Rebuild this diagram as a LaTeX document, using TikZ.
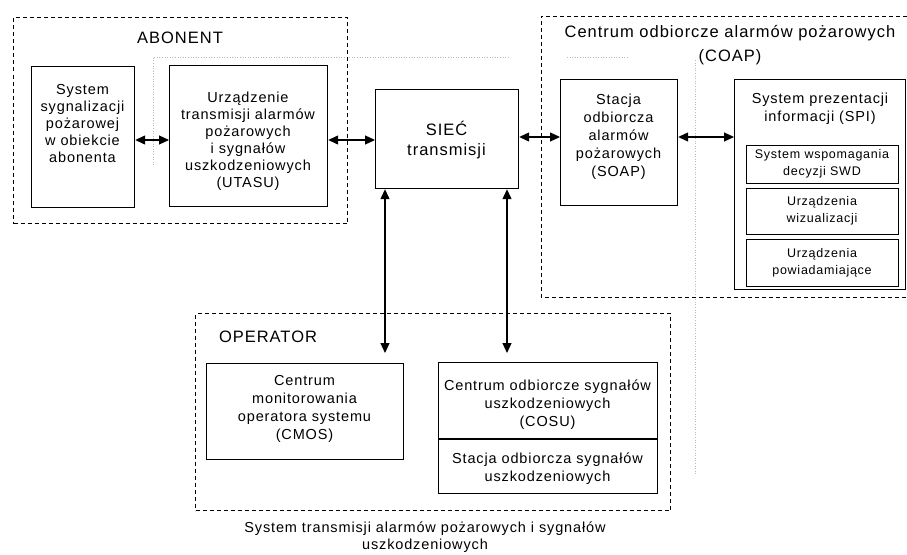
\documentclass[tikz,border=0pt]{standalone}
\usepackage{fontspec}
\setmainfont[LetterSpace=6]{Liberation Sans}
\usetikzlibrary{arrows.meta}
\tikzset{
  box/.style={draw, line width=1.2pt, inner sep=0pt, anchor=north west},
  grp/.style={draw, dash pattern=on 4pt off 3pt, line width=1pt},
  txt/.style={align=center, font=\fontsize{14.5}{17}\selectfont, inner sep=0pt},
  ttl/.style={align=center, font=\fontsize{16.5}{24}\selectfont, inner sep=0pt},
  sml/.style={align=center, font=\fontsize{12.5}{17}\selectfont, inner sep=0pt},
  link/.style={line width=1.2pt, {Triangle[length=10pt,width=9pt]}-{Triangle[length=10pt,width=9pt]}},
  faint/.style={draw=gray!55, dotted, line width=0.6pt}
}
\begin{document}
\begin{tikzpicture}[x=1pt,y=-1pt]
\useasboundingbox (0,0) rectangle (907,554);
% faint dotted guide lines of the scan
\draw[faint] (153,165) -- (153,57) -- (510,57);
\draw[faint] (567,57) -- (627,57);
\draw[faint] (695,60) -- (695,475);
% groups
\node[grp, anchor=north west, minimum width=334pt, minimum height=206pt, inner sep=0pt] (abonent) at (13,17) {};
\coordinate (coapTR) at (907,16);
\coordinate (coapTL) at (541,16);
\coordinate (coapBL) at (541,297);
\coordinate (coapBR) at (907,297);
\draw[grp] (coapTR) -- (coapTL) -- (coapBL) -- (coapBR);
\node[grp, anchor=north west, minimum width=475pt, minimum height=197pt, inner sep=0pt] (operator) at (195,313) {};
% titles
\node[ttl] (tAbo) at (180,38) {ABONENT};
\node[ttl] (tCoap) at (730,45) {Centrum odbiorcze alarmów pożarowych\\(COAP)};
\node[ttl] (tOp) at (268,337) {OPERATOR};
\node[txt] (tCap) at (425,537.5) {System transmisji alarmów pożarowych i sygnałów\\uszkodzeniowych};
% boxes
\node[box, minimum width=103pt, minimum height=141pt] (sys) at (31,66) {};
\node[txt] at (82.5,124) {System\\sygnalizacji\\pożarowej\\w obiekcie\\abonenta};
\node[box, minimum width=158pt, minimum height=141pt] (utasu) at (169,65) {};
\node[txt] at (248,141) {Urządzenie\\transmisji alarmów\\pożarowych\\i sygnałów\\uszkodzeniowych\\(UTASU)};
\node[box, minimum width=143pt, minimum height=99pt] (siec) at (375,89) {};
\node[align=center, inner sep=0pt, font=\fontsize{16.5}{20}\selectfont] at (446.5,140) {SIEĆ\\transmisji};
\node[box, minimum width=117pt, minimum height=126pt] (soap) at (560,79) {};
\node[txt, font=\fontsize{14.5}{18}\selectfont] at (618.5,137) {Stacja\\odbiorcza\\alarmów\\pożarowych\\(SOAP)};
\node[box, minimum width=171pt, minimum height=210pt] (spi) at (734,79) {};
\node[txt, font=\fontsize{14.5}{18}\selectfont] at (820,109) {System prezentacji\\informacji (SPI)};
\node[box, minimum width=152pt, minimum height=38pt] (swd) at (746,145) {};
\node[sml] at (822,164) {System wspomagania\\decyzji SWD};
\node[box, minimum width=152pt, minimum height=46pt] (wiz) at (746,188) {};
\node[sml] at (822,211) {Urządzenia\\wizualizacji};
\node[box, minimum width=152pt, minimum height=47pt] (pow) at (746,239) {};
\node[sml] at (822,262.5) {Urządzenia\\powiadamiające};
\node[box, minimum width=197pt, minimum height=96pt] (cmos) at (206,363) {};
\node[txt, font=\fontsize{14.5}{18}\selectfont] at (304.5,409) {Centrum\\monitorowania\\operatora systemu\\(CMOS)};
\node[box, minimum width=219pt, minimum height=131pt] (cosu) at (438,362) {};
\coordinate (div) at (0,439);
\draw[line width=1.1pt] (cosu.west |- div) -- (cosu.east |- div);
\node[txt, font=\fontsize{14.5}{18}\selectfont] at (547.5,405) {Centrum odbiorcze sygnałów\\uszkodzeniowych\\(COSU)};
\node[txt, font=\fontsize{14.5}{18}\selectfont] at (547.5,469) {Stacja odbiorcza sygnałów\\uszkodzeniowych};
% connectors
\coordinate (r1) at (0,140);
\coordinate (r2) at (0,137);
\draw[link] (sys.east |- r1) -- (utasu.west |- r1);
\draw[link] (utasu.east |- r1) -- (siec.west |- r1);
\draw[link] (siec.east |- r2) -- (soap.west |- r2);
\draw[link] (soap.east |- r2) -- (spi.west |- r2);
\coordinate (c1) at (385,353);
\coordinate (c2) at (507,353);
\draw[link] (siec.south -| c1) -- (c1);
\draw[link] (siec.south -| c2) -- (c2);
\end{tikzpicture}
\end{document}
